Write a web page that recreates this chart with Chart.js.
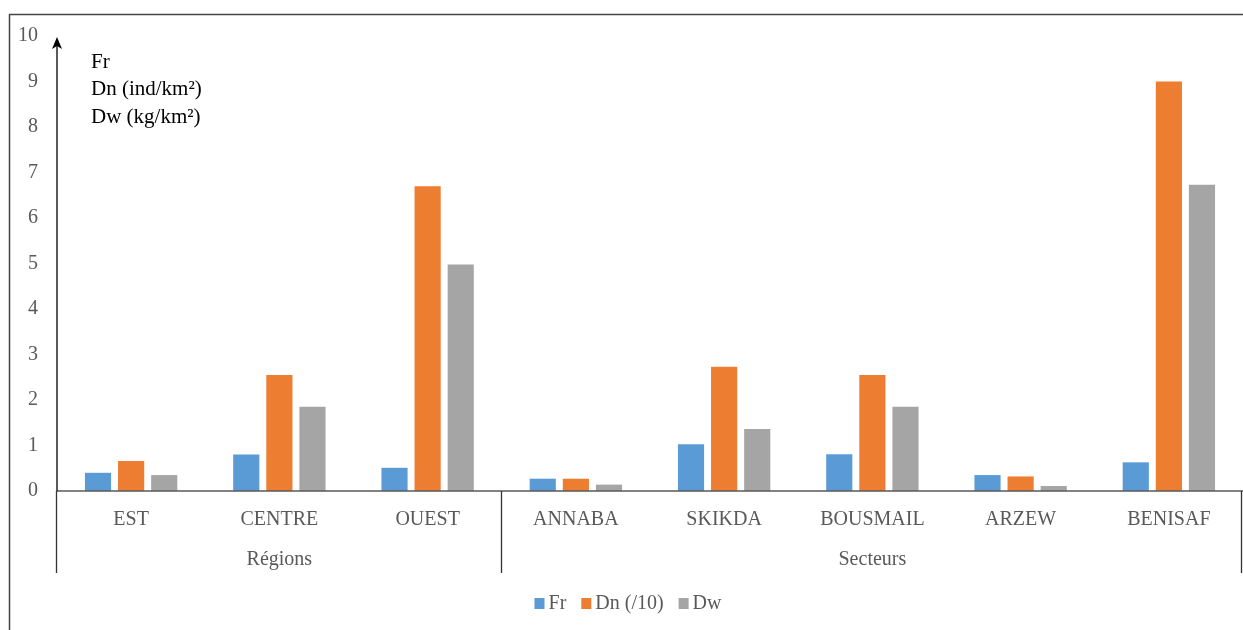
<!DOCTYPE html>
<html>
<head>
<meta charset="utf-8">
<script src="https://cdn.jsdelivr.net/npm/chart.js@4.4.1/dist/chart.umd.min.js"></script>
<style>
  html, body { margin: 0; padding: 0; background: #fff; }
  #wrap { width: 1243px; height: 630px; position: relative; }
</style>
</head>
<body>
<div id="wrap"><canvas id="chart" width="1243" height="630"></canvas></div>
<script>
"use strict"

const labels = ["EST", "CENTRE", "OUEST", "ANNABA", "SKIKDA", "BOUSMAIL", "ARZEW", "BENISAF"]
const groups = [
  {name: "Régions", from: 0, to: 2},
  {name: "Secteurs", from: 3, to: 7}
]
const fr = [0.40, 0.80, 0.51, 0.27, 1.03, 0.81, 0.35, 0.63]
const dn = [0.66, 2.55, 6.70, 0.27, 2.73, 2.55, 0.32, 9.00]
const dw = [0.35, 1.85, 4.98, 0.14, 1.36, 1.85, 0.11, 6.73]
const unitLines = ["Fr", "Dn (ind/km²)", "Dw (kg/km²)"]

const SERIF = "'Liberation Serif', 'Times New Roman', serif"
const GREY = "#595959"

// frame, arrow axis, group labels and legend drawn on top of the bars
const decorations = {
  id: "decorations",
  afterDraw(chart) {
    const {ctx, chartArea: ca, scales: {x, y}} = chart
    const y0 = y.getPixelForValue(0)
    const half = (x.getPixelForValue(1) - x.getPixelForValue(0)) / 2
    ctx.save()

    // outer frame (top and left edges)
    ctx.strokeStyle = "#444"
    ctx.lineWidth = 1.5
    ctx.beginPath()
    ctx.moveTo(9.5, 630); ctx.lineTo(9.5, 14.5); ctx.lineTo(1243, 14.5)
    ctx.stroke()

    // horizontal axis
    ctx.strokeStyle = GREY
    ctx.beginPath()
    ctx.moveTo(ca.left, y0); ctx.lineTo(ca.right, y0)
    ctx.stroke()

    // vertical axis with an arrow head
    const tip = y.getPixelForValue(10) + 1
    ctx.strokeStyle = "#000"
    ctx.fillStyle = "#000"
    ctx.lineWidth = 1.3
    ctx.beginPath()
    ctx.moveTo(ca.left, y0); ctx.lineTo(ca.left, tip + 6)
    ctx.stroke()
    ctx.beginPath()
    ctx.moveTo(ca.left, tip); ctx.lineTo(ca.left - 5, tip + 12); ctx.lineTo(ca.left, tip + 9); ctx.lineTo(ca.left + 5, tip + 12)
    ctx.closePath(); ctx.fill()

    // group separators and names
    ctx.strokeStyle = "#333"
    ctx.lineWidth = 1.3
    ctx.fillStyle = GREY
    ctx.font = "20px " + SERIF
    ctx.textAlign = "center"
    ctx.textBaseline = "middle"
    const bottom = 573
    const edges = new Set()
    groups.forEach(g => {
      const l = x.getPixelForValue(g.from) - half
      const r = x.getPixelForValue(g.to) + half
      edges.add(Math.round(l))
      edges.add(Math.min(Math.round(r), 1242))
      ctx.fillText(g.name, (l + r) / 2, 560)
    })
    ctx.beginPath()
    edges.forEach(e => { ctx.moveTo(e - 0.5, y0); ctx.lineTo(e - 0.5, bottom) })
    ctx.stroke()

    // units note
    ctx.fillStyle = "#000"
    ctx.font = "21px " + SERIF
    ctx.textAlign = "left"
    unitLines.forEach((t, i) => ctx.fillText(t, 91, 62 + i * 27.5))

    // legend
    ctx.font = "20px " + SERIF
    const items = chart.data.datasets.map(d => ({text: d.label, color: d.backgroundColor}))
    const gap = 4, box = 10, space = 15
    const total = items.reduce((s, it) => s + box + gap + ctx.measureText(it.text).width, 0) + space * (items.length - 1)
    let lx = 628 - total / 2
    const ly = 604
    items.forEach(it => {
      ctx.fillStyle = it.color
      ctx.fillRect(lx, ly - 6, box, 11)
      lx += box + gap
      ctx.fillStyle = GREY
      ctx.fillText(it.text, lx, ly)
      lx += ctx.measureText(it.text).width + space
    })
    ctx.restore()
  }
}

new Chart("chart", {
  type: "bar",
  data: {
    labels: labels,
    datasets: [
      {label: "Fr", data: fr, backgroundColor: "#5B9BD5"},
      {label: "Dn (/10)", data: dn, backgroundColor: "#ED7D31"},
      {label: "Dw", data: dw, backgroundColor: "#A5A5A5"}
    ]
  },
  options: {
    responsive: false,
    animation: false,
    events: [],
    layout: {padding: {top: 36, left: 0, right: 0, bottom: 0}},
    datasets: {bar: {categoryPercentage: 0.67, barPercentage: 0.79}},
    plugins: {legend: {display: false}, tooltip: {enabled: false}},
    scales: {
      x: {
        grid: {display: false, drawTicks: false},
        border: {display: false},
        ticks: {color: GREY, font: {family: SERIF, size: 20}, padding: 17, maxRotation: 0},
        afterFit: s => { s.height = 139 }
      },
      y: {
        min: 0, max: 10,
        grid: {display: false, drawTicks: false},
        border: {display: false},
        ticks: {stepSize: 1, color: GREY, font: {family: SERIF, size: 20}, padding: 19},
        afterFit: s => { s.width = 57 }
      }
    }
  },
  plugins: [decorations]
})
</script>
</body>
</html>
